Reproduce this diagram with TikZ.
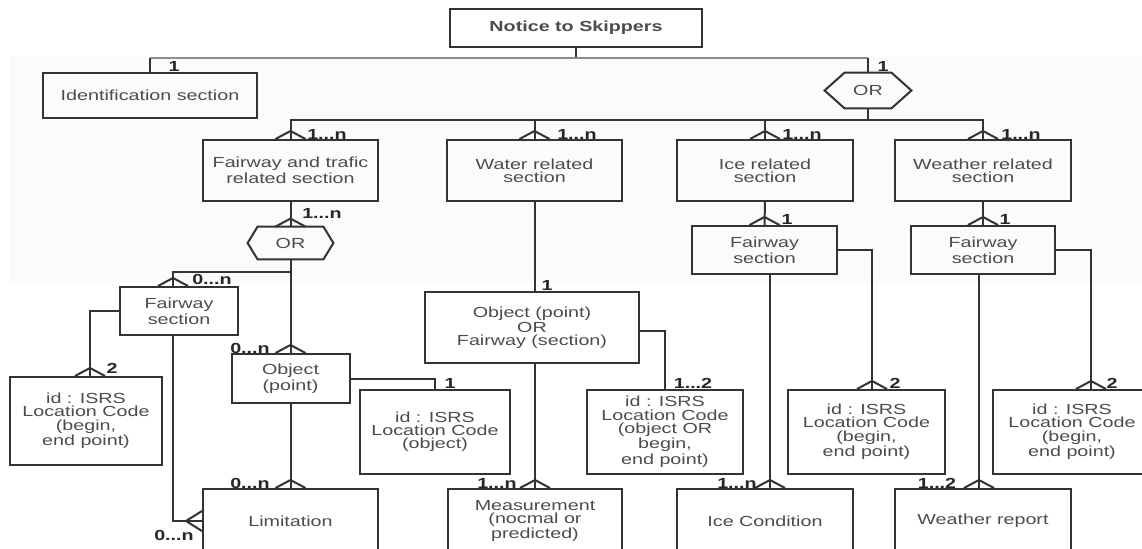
\documentclass[tikz,border=0pt]{standalone}
\usepackage{fontspec}
\setmainfont[FakeStretch=1.35]{Liberation Sans}
\usetikzlibrary{calc}
\begin{document}
\begin{tikzpicture}[x=0.5pt,y=-0.5pt,
  boxline/.style={draw=black!80,line width=1pt},
  box/.style={boxline,rectangle,inner sep=0pt,align=center,text=black!70,
    font={\fontsize{7.3}{6.6}\selectfont}},
  orbox/.style={rectangle,inner sep=0pt,text=black!70,
    font={\fontsize{7.3}{6.6}\selectfont}},
  lbl/.style={inner sep=0pt,text=black!85,font={\fontsize{7.3}{6.6}\selectfont\bfseries}},
  conn/.style={draw=black!80,line width=1pt},
  crowfoot/.pic={\draw[conn] (-15,0) -- (0,-8) -- (15,0);},
  crowleft/.pic={\draw[conn] (0,-10) -- (-16,0) -- (0,10);}
]
% page and light panel behind the upper levels
\clip (0,0) rectangle (1142,548);
\fill[white] (0,0) rectangle (1142,548);
\fill[black!1.5] (10,57) rectangle (1142,282);

\newcommand{\orshape}[2]{%
  \draw[boxline] (#1.west) -- ($(#1.north west)+(#2,0)$) -- ($(#1.north east)+(-#2,0)$)
    -- (#1.east) -- ($(#1.south east)+(-#2,0)$) -- ($(#1.south west)+(#2,0)$) -- cycle;}

% ---- top level
\node[box,minimum width=126pt,minimum height=19pt,font={\fontsize{7.3}{6.6}\selectfont\bfseries}] (root) at (576,28) {Notice to Skippers};
\node[box,minimum width=107pt,minimum height=22.5pt] (ident) at (150,95.5) {Identification section};
\node[orbox,minimum width=43pt,minimum height=17.5pt] (or1) at (868,90.5) {OR};
\orshape{or1}{20}

% ---- sections
\node[box,minimum width=87.5pt,minimum height=30.5pt] (fts) at (290.5,170.5) {Fairway and trafic\\related section};
\node[box,minimum width=87.5pt,minimum height=30.5pt] (wrs) at (534.5,170.5) {Water related\\section};
\node[box,minimum width=88pt,minimum height=30.5pt] (irs) at (765,170.5) {Ice related\\section};
\node[box,minimum width=88pt,minimum height=30.5pt] (wes) at (983,170.5) {Weather related\\section};

% ---- fairway and trafic branch
\node[orbox,minimum width=42.5pt,minimum height=16pt] (or2) at (290.5,243) {OR};
\orshape{or2}{10}
\node[box,minimum width=59pt,minimum height=24pt] (fsL) at (179,311) {Fairway\\section};
\node[box,minimum width=59pt,minimum height=24.5pt] (obj) at (290.5,378.5) {Object\\(point)};
\node[box,minimum width=76pt,minimum height=44pt] (idL) at (86,421) {id : ISRS\\Location Code\\(begin,\\end point)};
\node[box,minimum width=75pt,minimum height=42pt] (idO) at (435,432) {id : ISRS\\Location Code\\(object)};
\node[box,minimum width=87.5pt,minimum height=32pt] (lim) at (290.5,521) {Limitation};

% ---- water branch
\node[box,minimum width=107pt,minimum height=35.5pt] (oof) at (532,327.5) {Object (point)\\OR\\Fairway (section)};
\node[box,minimum width=78pt,minimum height=42pt] (idM) at (665,432) {id : ISRS\\Location Code\\(object OR\\begin,\\end point)};
\node[box,minimum width=87pt,minimum height=32pt] (meas) at (535,521) {Measurement\\(nocmal or\\predicted)};

% ---- ice branch
\node[box,minimum width=72.5pt,minimum height=24pt] (fsI) at (764.5,250) {Fairway\\section};
\node[box,minimum width=78.5pt,minimum height=42pt] (idI) at (866.5,432) {id : ISRS\\Location Code\\(begin,\\end point)};
\node[box,minimum width=88pt,minimum height=32pt] (ice) at (765,521) {Ice Condition};

% ---- weather branch
\node[box,minimum width=72pt,minimum height=24pt] (fsW) at (983,250) {Fairway\\section};
\node[box,minimum width=79pt,minimum height=42pt] (idW) at (1072,432) {id : ISRS\\Location Code\\(begin,\\end point)};
\node[box,minimum width=88pt,minimum height=32pt] (wr) at (983,521) {Weather report};

% ---- connectors, top
\coordinate (top) at (576,58);
\coordinate (bar) at (868,120);
\draw[conn] (root.south) -- (top);
\draw[draw=black!45,line width=0.6pt] (ident.north |- top) -- (or1.north |- top);
\draw[conn] (ident.north |- top) -- (ident.north);
\draw[conn] (or1.north |- top) -- (or1.north);
\draw[conn] (or1.south) -- (bar);
\draw[conn] (fts.north) -- (fts.north |- bar) -- (wes.north |- bar) -- (wes.north);
\draw[conn] (wrs.north |- bar) -- (wrs.north);
\draw[conn] (irs.north |- bar) -- (irs.north);
\path (fts.north) pic {crowfoot} (wrs.north) pic {crowfoot}
      (irs.north) pic {crowfoot} (wes.north) pic {crowfoot};

% ---- connectors, fairway and trafic
\coordinate (fork) at (290.5,272);
\coordinate (fsLtop) at ($(fsL.north)+(-6,0)$);
\coordinate (fsLbot) at ($(fsL.south)+(-6,0)$);
\coordinate (idLtop) at ($(idL.north)+(4,0)$);
\draw[conn] (fts.south) -- (or2.north);
\path (or2.north) pic {crowfoot};
\draw[conn] (or2.south) -- (obj.north);
\path (obj.north) pic {crowfoot};
\draw[conn] (fork) -| (fsLtop);
\path (fsLtop) pic {crowfoot};
\draw[conn] (fsL.west) -| (idLtop);
\path (idLtop) pic {crowfoot};
\draw[conn] (fsLbot) |- (lim.west);
\path (lim.west) pic {crowleft};
\draw[conn] (obj.east) -| (idO.north);
\draw[conn] (obj.south) -- (lim.north);
\path (lim.north) pic {crowfoot};

% ---- connectors, water
\coordinate (oofR) at ($(oof.east)+(0,3.5)$);
\draw[conn] (wrs.south) -- (wrs.south |- oof.north);
\draw[conn] (oofR) -| (idM.north);
\draw[conn] (meas.north |- oof.south) -- (meas.north);
\path (meas.north) pic {crowfoot};

% ---- connectors, ice
\coordinate (idItop) at ($(idI.north)+(5.5,0)$);
\coordinate (icedrop) at ($(ice.north)+(5,0)$);
\draw[conn] (irs.south) -- (fsI.north);
\path (fsI.north) pic {crowfoot};
\draw[conn] (fsI.east) -| (idItop);
\path (idItop) pic {crowfoot};
\draw[conn] (fsI.south -| icedrop) -- (icedrop);
\path (icedrop) pic {crowfoot};

% ---- connectors, weather
\coordinate (idWtop) at ($(idW.north)+(19,0)$);
\coordinate (wrdrop) at ($(wr.north)+(-4,0)$);
\draw[conn] (wes.south) -- (fsW.north);
\path (fsW.north) pic {crowfoot};
\draw[conn] (fsW.east) -| (idWtop);
\path (idWtop) pic {crowfoot};
\draw[conn] (fsW.south -| wrdrop) -- (wrdrop);
\path (wrdrop) pic {crowfoot};

% ---- cardinalities
\node[lbl] (c1) at (174,66) {1};
\node[lbl] (c2) at (883,66) {1};
\node[lbl] (c3) at (327,134) {1...n};
\node[lbl] (c4) at (577,134) {1...n};
\node[lbl] (c5) at (802,134) {1...n};
\node[lbl] (c6) at (1021,134) {1...n};
\node[lbl] (c7) at (322,213) {1...n};
\node[lbl] (c8) at (212,279) {0...n};
\node[lbl] (c9) at (250,348) {0...n};
\node[lbl] (c10) at (112,368) {2};
\node[lbl] (c11) at (450,383) {1};
\node[lbl] (c12) at (250,483) {0...n};
\node[lbl] (c13) at (174,535) {0...n};
\node[lbl] (c14) at (547,285) {1};
\node[lbl] (c15) at (693,383) {1...2};
\node[lbl] (c16) at (497,483) {1...n};
\node[lbl] (c17) at (787,219) {1};
\node[lbl] (c18) at (895,383) {2};
\node[lbl] (c19) at (737,483) {1...n};
\node[lbl] (c20) at (1005,219) {1};
\node[lbl] (c21) at (1112,383) {2};
\node[lbl] (c22) at (937,483) {1...2};
\end{tikzpicture}
\end{document}
